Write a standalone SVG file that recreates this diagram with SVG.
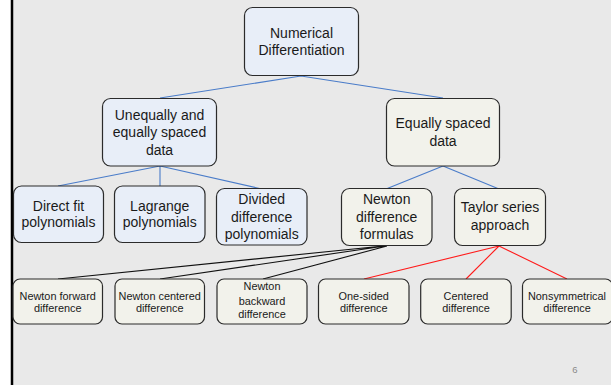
<svg xmlns="http://www.w3.org/2000/svg" width="611" height="385" viewBox="0 0 611 385">
<style>
.bg{fill:#e9e9e9}
.box{stroke:#2b2b2b;stroke-width:1.2}
.blue{fill:#e8eef8}
.cream{fill:#f2f2eb}
.t{font-family:"Liberation Sans",Arial,sans-serif;font-size:14px;fill:#1a1a1a;text-anchor:middle}
.s{font-family:"Liberation Sans",Arial,sans-serif;font-size:10.9px;fill:#1a1a1a;text-anchor:middle}
.lb{stroke:#4a7cc9;stroke-width:1.1;fill:none}
.lk{stroke:#111;stroke-width:1.1;fill:none}
.lr{stroke:#ff1a1a;stroke-width:1.1;fill:none}
</style>
<rect x="0" y="0" width="611" height="385" fill="#ffffff"/>
<rect class="bg" x="12" y="0" width="599" height="385"/>
<line x1="12" y1="0" x2="12" y2="385" stroke="#000" stroke-width="2.5"/>
<g id="connectors">
<path class="lb" d="M301 76 L160 98 M301 76 L443 98"/>
<path class="lb" d="M160 166 L58 186 M160 166 L160 186 M160 166 L262 189"/>
<path class="lb" d="M443 166 L386 189 M443 166 L499 189"/>
<path class="lk" d="M383 246 L58 279 M385 246 L160 279 M387 246 L263 279"/>
<path class="lr" d="M499 246 L364 279 M499 246 L466 279 M499 246 L567 279"/>
</g>
<g id="n-root"><rect class="box blue" x="244.5" y="7.5" width="114" height="68" rx="8"/>
<text class="t" x="301.5" y="37.7">Numerical</text><text class="t" x="301.5" y="55.2">Differentiation</text></g>
<g id="n-unequal"><rect class="box blue" x="102.5" y="98.5" width="114" height="67.5" rx="8"/>
<text class="t" x="159.5" y="119.5">Unequally and</text><text class="t" x="159.5" y="137">equally spaced</text><text class="t" x="159.5" y="154.5">data</text></g>
<g id="n-equal"><rect class="box cream" x="386.5" y="98.5" width="113" height="67.5" rx="8"/>
<text class="t" x="443" y="128.2">Equally spaced</text><text class="t" x="443" y="145.7">data</text></g>
<g id="n-direct"><rect class="box blue" x="13.5" y="186" width="90" height="56.5" rx="8"/>
<text class="t" x="58.5" y="210.8">Direct fit</text><text class="t" x="58.5" y="227.3">polynomials</text></g>
<g id="n-lagrange"><rect class="box blue" x="114.5" y="186" width="90.5" height="56.5" rx="8"/>
<text class="t" x="159.7" y="210.8">Lagrange</text><text class="t" x="159.7" y="227.3">polynomials</text></g>
<g id="n-divided"><rect class="box blue" x="216.5" y="188.5" width="90.5" height="56.5" rx="8"/>
<text class="t" x="261.7" y="204">Divided</text><text class="t" x="261.7" y="221.5">difference</text><text class="t" x="261.7" y="239">polynomials</text></g>
<g id="n-newton"><rect class="box cream" x="341.5" y="188.5" width="90.5" height="57" rx="8"/>
<text class="t" x="386.7" y="204">Newton</text><text class="t" x="386.7" y="221.5">difference</text><text class="t" x="386.7" y="239">formulas</text></g>
<g id="n-taylor"><rect class="box cream" x="454.5" y="188.5" width="91" height="57" rx="8"/>
<text class="t" x="500" y="212">Taylor series</text><text class="t" x="500" y="229.5">approach</text></g>
<g id="n-nfwd"><rect class="box cream" x="13" y="279" width="89.5" height="45" rx="7"/>
<text class="s" x="57.7" y="299.7">Newton forward</text><text class="s" x="57.7" y="312">difference</text></g>
<g id="n-ncen"><rect class="box cream" x="115" y="279" width="89.5" height="45" rx="7"/>
<text class="s" x="159.7" y="299.7">Newton centered</text><text class="s" x="159.7" y="312">difference</text></g>
<g id="n-nbwd"><rect class="box cream" x="217" y="279" width="90" height="45" rx="7"/>
<text class="s" x="262" y="290">Newton</text><text class="s" x="262" y="304.5">backward</text><text class="s" x="262" y="317.5">difference</text></g>
<g id="n-onesided"><rect class="box cream" x="318.5" y="279" width="90.5" height="45" rx="7"/>
<text class="s" x="363.7" y="299.7">One-sided</text><text class="s" x="363.7" y="312">difference</text></g>
<g id="n-centered"><rect class="box cream" x="420.7" y="279" width="90.5" height="45" rx="7"/>
<text class="s" x="466" y="299.7">Centered</text><text class="s" x="466" y="312">difference</text></g>
<g id="n-nonsym"><rect class="box cream" x="522.5" y="279" width="90" height="45" rx="7"/>
<text class="s" x="567" y="299.7">Nonsymmetrical</text><text class="s" x="567" y="312">difference</text></g>
<text x="575" y="372.5" font-family="Liberation Sans, Arial, sans-serif" font-size="9.5" fill="#8a8a8a" text-anchor="middle">6</text>
</svg>
